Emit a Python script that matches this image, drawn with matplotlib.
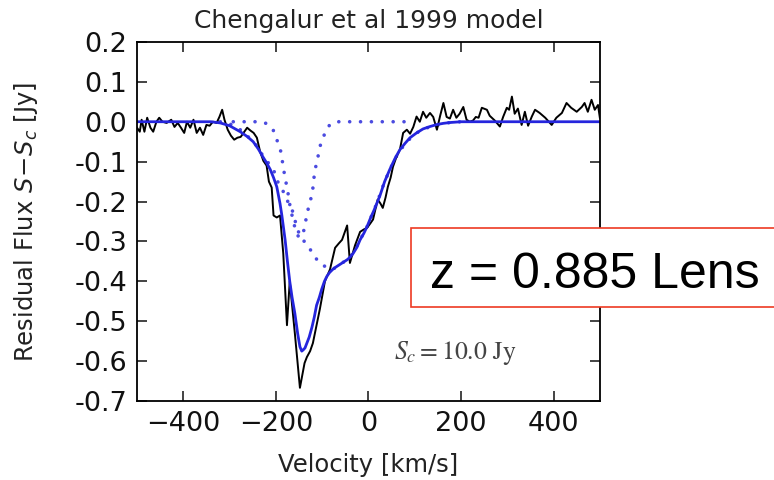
import matplotlib
matplotlib.use("Agg")
import matplotlib.pyplot as plt
from matplotlib.patches import Rectangle

# observed spectrum (velocity km/s, residual flux Jy)
vel_obs = [-500, -494, -490, -484, -478, -471, -465, -458, -452, -445, -436, -426,
           -419, -412, -405, -398, -392, -385, -378, -371, -364, -357, -350, -343,
           -336, -328, -322, -316, -311, -304, -297, -290, -283, -276, -268, -262,
           -255, -248, -241, -234, -227, -220, -215, -209, -205, -198, -191, -184,
           -176, -170, -159, -148, -138, -133, -126, -120, -112, -105, -94, -83,
           -72, -64, -57, -46, -40, -29, -18, -10, -3, 4, 10, 20, 26, 31, 37, 42,
           48, 53, 60, 68, 75, 83, 90, 97, 104, 111, 118, 125, 133, 140, 148, 155,
           162, 169, 176, 183, 190, 197, 205, 212, 219, 226, 232, 238, 245, 256,
           262, 273, 284, 291, 299, 304, 310, 316, 323, 331, 338, 345, 353, 360,
           370, 382, 396, 406, 418, 428, 438, 450, 461, 467, 474, 482, 489, 496, 500]
flux_obs = [-0.015, -0.025, 0.005, -0.025, 0.01, -0.015, -0.025, 0.0, 0.01, 0.0, -0.003, 0.005,
            -0.013, -0.003, -0.015, -0.028, 0.0, -0.015, 0.005, -0.028, -0.015, -0.033, -0.008, -0.01,
            0.0, -0.003, 0.012, 0.03, 0.005, -0.02, -0.035, -0.045, -0.04, -0.038, -0.025, -0.015,
            -0.022, -0.028, -0.04, -0.075, -0.098, -0.11, -0.15, -0.165, -0.235, -0.24, -0.235, -0.33,
            -0.51, -0.40, -0.53, -0.667, -0.605, -0.59, -0.575, -0.555, -0.51, -0.47, -0.40, -0.37,
            -0.316, -0.305, -0.296, -0.26, -0.354, -0.31, -0.276, -0.27, -0.266, -0.255, -0.245, -0.195, -0.205, -0.216, -0.19, -0.163,
            -0.14, -0.113, -0.09, -0.07, -0.028, -0.02, -0.03, -0.013, 0.013, 0.0, 0.025, 0.01, 0.022, 0.012, -0.02, 0.015,
            0.047, 0.012, 0.008, 0.03, 0.01, 0.02, 0.037, 0.005, 0.0, 0.003, 0.012, 0.01, 0.035, 0.03,
            0.015, 0.003, -0.012, 0.012, 0.035, 0.03, 0.063, 0.02, 0.033, -0.008, 0.025, -0.01, 0.013, 0.03,
            0.022, 0.01, -0.008, 0.01, 0.022, 0.047, 0.035, 0.025, 0.037, 0.047, 0.025, 0.055, 0.03, 0.042, 0.01]

# total model
vel_mod = [-500, -400, -340, -320, -300, -277, -262, -249, -238, -228, -220, -212, -205,
           -198, -191, -187, -180, -175, -170, -165, -159, -153, -148, -144, -141, -137,
           -133, -128, -122, -117, -112, -106, -101, -95, -90, -84, -77, -70, -62, -54,
           -46, -40, -33, -25, -18, -10, -3, 5, 12, 18, 25, 35, 46, 57, 68, 80, 90, 104,
           118, 133, 148, 162, 176, 200, 300, 500]
flux_mod = [0.0, 0.0, 0.0, -0.003, -0.01, -0.025, -0.037, -0.05, -0.068, -0.088, -0.103, -0.12, -0.14,
            -0.163, -0.205, -0.235, -0.296, -0.35, -0.40, -0.44, -0.48, -0.53, -0.564, -0.575, -0.572, -0.567,
            -0.555, -0.54, -0.515, -0.49, -0.46, -0.44, -0.42, -0.40, -0.388, -0.378, -0.37, -0.364, -0.358, -0.352,
            -0.346, -0.34, -0.33, -0.315, -0.296, -0.28, -0.263, -0.24, -0.222, -0.205, -0.185, -0.15, -0.12, -0.093,
            -0.07, -0.053, -0.04, -0.028, -0.018, -0.012, -0.007, -0.004, -0.002, 0.0, 0.0, 0.0]

# narrow component
vel_narrow = [-292, -270, -250, -235, -225, -215, -206, -198, -191, -187, -184, -180, -176,
              -172, -169, -165, -160, -155, -150, -145, -141, -137, -133, -128, -122, -119,
              -117, -113, -109, -105, -98, -89, -80, -70, -50, 0, 50, 80]
flux_narrow = [0.0, 0.0, 0.0, 0.0, -0.002, -0.008, -0.02, -0.045, -0.065, -0.09, -0.115, -0.14, -0.165,
               -0.19, -0.215, -0.235, -0.26, -0.28, -0.29, -0.288, -0.28, -0.258, -0.233, -0.208, -0.183, -0.158,
               -0.133, -0.108, -0.088, -0.063, -0.04, -0.015, -0.004, 0.0, 0.0, 0.0, 0.0, 0.0]

# broad component
vel_broad = [-320, -300, -277, -262, -245, -228, -213, -202, -195, -184, -176, -165, -158,
             -150, -140, -133, -120, -109, -90, -77, -62, -46, -33, -18, -3, 18, 35, 57,
             80, 104, 133, 176, 200]
flux_broad = [0.0, -0.005, -0.02, -0.035, -0.055, -0.085, -0.108, -0.128, -0.153, -0.175, -0.196, -0.22, -0.25,
              -0.28, -0.298, -0.308, -0.33, -0.35, -0.366, -0.37, -0.358, -0.346, -0.33, -0.296, -0.263, -0.205, -0.15, -0.093,
              -0.053, -0.028, -0.012, -0.002, 0.0]

xticks = [-400, -200, 0, 200, 400]
yticks = [-0.7, -0.6, -0.5, -0.4, -0.3, -0.2, -0.1, 0.0, 0.1, 0.2]

fig = plt.figure(figsize=(7.74, 4.8), dpi=100)
ax = fig.add_axes([0.177, 0.1646, 0.598, 0.748])

dots = (0, (0.01, 3.0))
ax.plot(vel_narrow, flux_narrow, color='#4b4be0', lw=2.6, ls=dots, dash_capstyle='round')
ax.plot(vel_broad, flux_broad, color='#4b4be0', lw=2.6, ls=dots, dash_capstyle='round')
ax.plot(vel_obs, flux_obs, color='black', lw=1.4)
ax.plot(vel_mod, flux_mod, color='#2525dd', lw=2.0)

ax.set_xlim(-500, 500)
ax.set_ylim(-0.7, 0.2)
ax.set_xticks(xticks)
ax.set_yticks(yticks)
ax.set_yticklabels(['%.1f' % t if abs(t) > 1e-9 else '0.0' for t in yticks])
ax.tick_params(direction='in', top=True, right=True, length=7, width=1.1,
               labelsize=19.5, pad=7, colors='#111111')
for s in ax.spines.values():
    s.set_linewidth(1.3)

ax.set_title('Chengalur et al 1999 model', fontsize=18, color='#222222', pad=10)
ax.set_xlabel('Velocity [km/s]', fontsize=17.5, color='#222222')
ax.set_ylabel(r'Residual Flux $S\!-\!S_c$ [Jy]', fontsize=17.5, color='#222222')
ax.xaxis.set_label_coords(0.5, -0.145)
ax.yaxis.set_label_coords(-0.21, 0.5)

ax.text(187, -0.579, r'$S_c = 10.0\ \mathrm{Jy}$', fontsize=18.5, color='#444444',
        ha='center', va='center', math_fontfamily='stix')

box = Rectangle((0.531, 0.3604), 0.49, 0.1646, transform=fig.transFigure,
                facecolor='white', edgecolor='#ee3a22', lw=1.2, zorder=10, clip_on=False)
fig.add_artist(box)
fig.text(0.5556, 0.4, 'z = 0.885 Lens', fontsize=36, family='Liberation Sans',
         color='black', va='baseline', ha='left', zorder=11)

fig.savefig('out.png', dpi=100)
